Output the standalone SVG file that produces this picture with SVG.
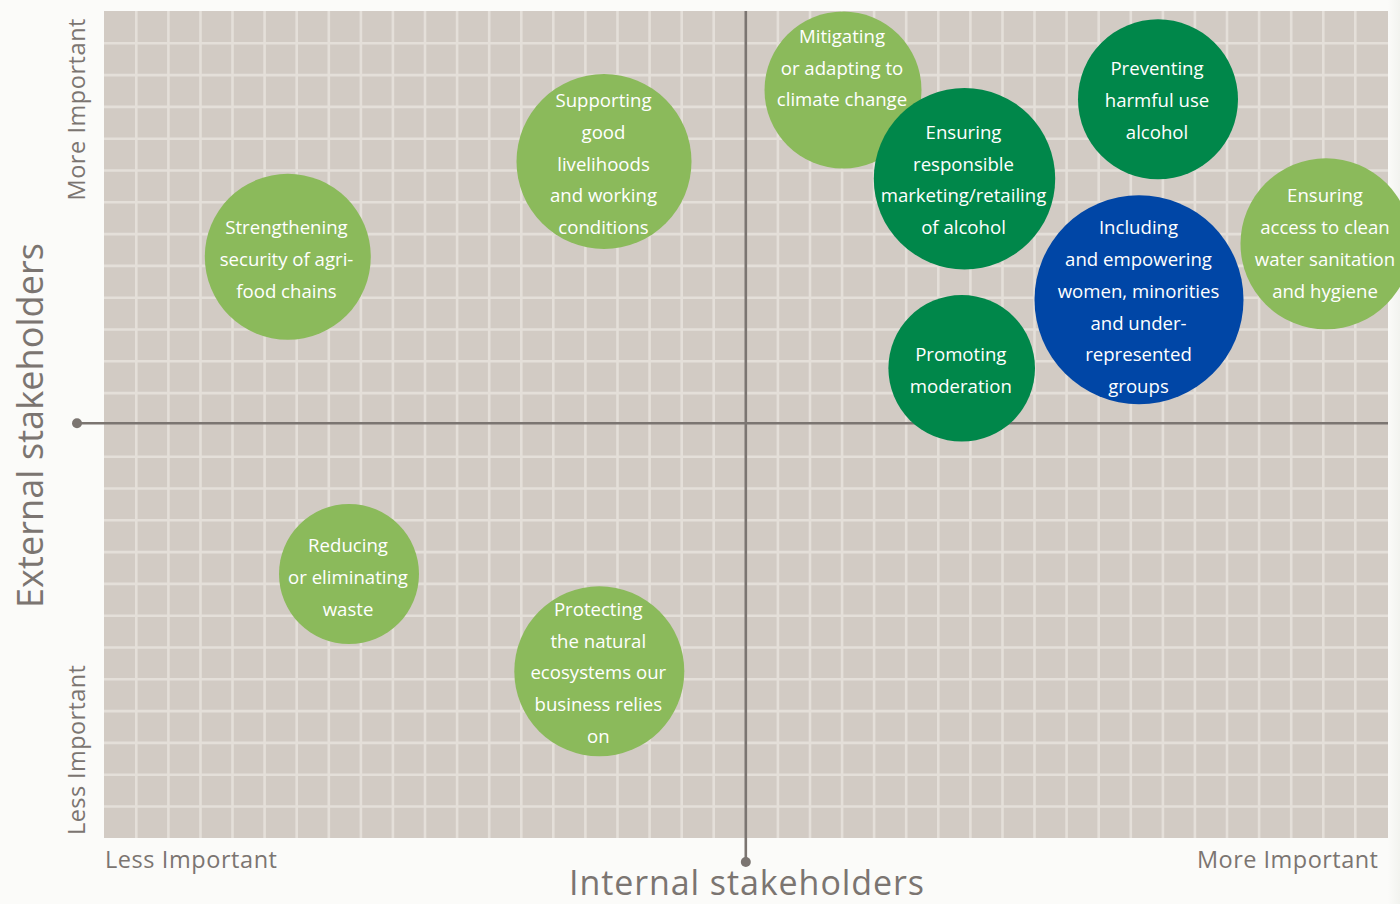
<svg xmlns="http://www.w3.org/2000/svg" width="1400" height="904" viewBox="0 0 1400 904">
<defs>
<style>
.bg{fill:#d2cbc4}
.grid{stroke:#e4dfd9;stroke-width:2.6;fill:none}
.axis{stroke:#7b7571;stroke-width:2.6;fill:none}
.dot{fill:#7b7571}
.ax{font-family:"Open Sans","Noto Sans",sans-serif;fill:#7b7571}
.lg{fill:#8bba5b}
.dg{fill:#00874a}
.bl{fill:#0046a6}
.t{font-family:"Open Sans","Noto Sans",sans-serif;font-size:18.6px;fill:#ffffff;text-anchor:middle}
</style>
<linearGradient id="fade" x1="0" y1="0" x2="1" y2="0">
<stop offset="0" stop-color="#fbfbf9"/>
<stop offset="1" stop-color="#f2f3ef"/>
</linearGradient>
</defs>
<rect x="0" y="0" width="1400" height="904" fill="#fbfbf9"/>
<rect x="1388" y="0" width="12" height="904" fill="url(#fade)"/>
<g id="grid">
<rect class="bg" x="104" y="11" width="1284" height="827"/>
<path class="grid" d="M136.3 11V838M168.4 11V838M200.5 11V838M232.5 11V838M264.6 11V838M296.7 11V838M328.8 11V838M360.9 11V838M392.9 11V838M425 11V838M457.1 11V838M489.2 11V838M521.3 11V838M553.3 11V838M585.4 11V838M617.5 11V838M649.6 11V838M681.7 11V838M713.7 11V838M777.9 11V838M810 11V838M842.1 11V838M874.1 11V838M906.2 11V838M938.3 11V838M970.4 11V838M1002.5 11V838M1034.5 11V838M1066.6 11V838M1098.7 11V838M1130.8 11V838M1162.9 11V838M1194.9 11V838M1227 11V838M1259.1 11V838M1291.2 11V838M1323.3 11V838M1355.3 11V838
M104 43.3H1388M104 75.1H1388M104 106.9H1388M104 138.7H1388M104 170.5H1388M104 202.3H1388M104 234.1H1388M104 265.9H1388M104 297.7H1388M104 329.5H1388M104 361.3H1388M104 393.1H1388M104 456.7H1388M104 488.5H1388M104 520.3H1388M104 552.1H1388M104 583.9H1388M104 615.7H1388M104 647.5H1388M104 679.3H1388M104 711.1H1388M104 742.9H1388M104 774.7H1388M104 806.5H1388"/>
</g>
<g id="axes">
<path class="axis" d="M745.8 11V862M77 423.3H1388"/>
<circle class="dot" cx="745.8" cy="862" r="5"/>
<circle class="dot" cx="77" cy="423.3" r="5"/>
</g>
<g id="axis-labels">
<text class="ax" x="105" y="868" font-size="23.5" textLength="172">Less Important</text>
<text class="ax" x="1197" y="868" font-size="23.5" textLength="181">More Important</text>
<text class="ax" x="569" y="895" font-size="34" textLength="355">Internal stakeholders</text>
<text class="ax" transform="translate(43,608) rotate(-90)" font-size="36" textLength="365">External stakeholders</text>
<text class="ax" transform="translate(84.5,200.5) rotate(-90)" font-size="23.5" textLength="182">More Important</text>
<text class="ax" transform="translate(84.5,835) rotate(-90)" font-size="23.5" textLength="170">Less Important</text>
</g>
<g id="mitigating">
<circle class="lg" cx="843" cy="90" r="78.5"/>
<text class="t" x="842" y="42.7">Mitigating</text>
<text class="t" x="842" y="74.5">or adapting to</text>
<text class="t" x="842" y="106.3">climate change</text>
</g>
<g id="supporting">
<circle class="lg" cx="604" cy="161.5" r="87.5"/>
<text class="t" x="603.5" y="106.9">Supporting</text>
<text class="t" x="603.5" y="138.7">good</text>
<text class="t" x="603.5" y="170.5">livelihoods</text>
<text class="t" x="603.5" y="202.3">and working</text>
<text class="t" x="603.5" y="234.1">conditions</text>
</g>
<g id="strengthening">
<circle class="lg" cx="287.8" cy="256.8" r="83"/>
<text class="t" x="286.5" y="234.1">Strengthening</text>
<text class="t" x="286.5" y="265.9">security of agri-</text>
<text class="t" x="286.5" y="297.7">food chains</text>
</g>
<g id="ensuring-responsible">
<circle class="dg" cx="964.5" cy="178.7" r="90.7"/>
<text class="t" x="963.5" y="138.7">Ensuring</text>
<text class="t" x="963.5" y="170.5">responsible</text>
<text class="t" x="963.5" y="202.3">marketing/retailing</text>
<text class="t" x="963.5" y="234.1">of alcohol</text>
</g>
<g id="preventing">
<circle class="dg" cx="1158" cy="99.3" r="80"/>
<text class="t" x="1157" y="75.1">Preventing</text>
<text class="t" x="1157" y="106.9">harmful use</text>
<text class="t" x="1157" y="138.7">alcohol</text>
</g>
<g id="ensuring-access">
<circle class="lg" cx="1326" cy="243.8" r="85.5"/>
<text class="t" x="1325" y="202.3">Ensuring</text>
<text class="t" x="1325" y="234.1">access to clean</text>
<text class="t" x="1325" y="265.9">water sanitation</text>
<text class="t" x="1325" y="297.7">and hygiene</text>
</g>
<g id="including">
<circle class="bl" cx="1139" cy="299.7" r="104.5"/>
<text class="t" x="1138.5" y="234.1">Including</text>
<text class="t" x="1138.5" y="265.9">and empowering</text>
<text class="t" x="1138.5" y="297.7">women, minorities</text>
<text class="t" x="1138.5" y="329.5">and under-</text>
<text class="t" x="1138.5" y="361.3">represented</text>
<text class="t" x="1138.5" y="393.1">groups</text>
</g>
<g id="promoting">
<circle class="dg" cx="961.7" cy="368.3" r="73.3"/>
<text class="t" x="960.8" y="361.3">Promoting</text>
<text class="t" x="960.8" y="393.1">moderation</text>
</g>
<g id="reducing">
<circle class="lg" cx="349" cy="574" r="70"/>
<text class="t" x="348" y="552.1">Reducing</text>
<text class="t" x="348" y="583.9">or eliminating</text>
<text class="t" x="348" y="615.7">waste</text>
</g>
<g id="protecting">
<circle class="lg" cx="599.3" cy="671.3" r="85"/>
<text class="t" x="598.3" y="615.7">Protecting</text>
<text class="t" x="598.3" y="647.5">the natural</text>
<text class="t" x="598.3" y="679.3">ecosystems our</text>
<text class="t" x="598.3" y="711.1">business relies</text>
<text class="t" x="598.3" y="742.9">on</text>
</g>
</svg>
